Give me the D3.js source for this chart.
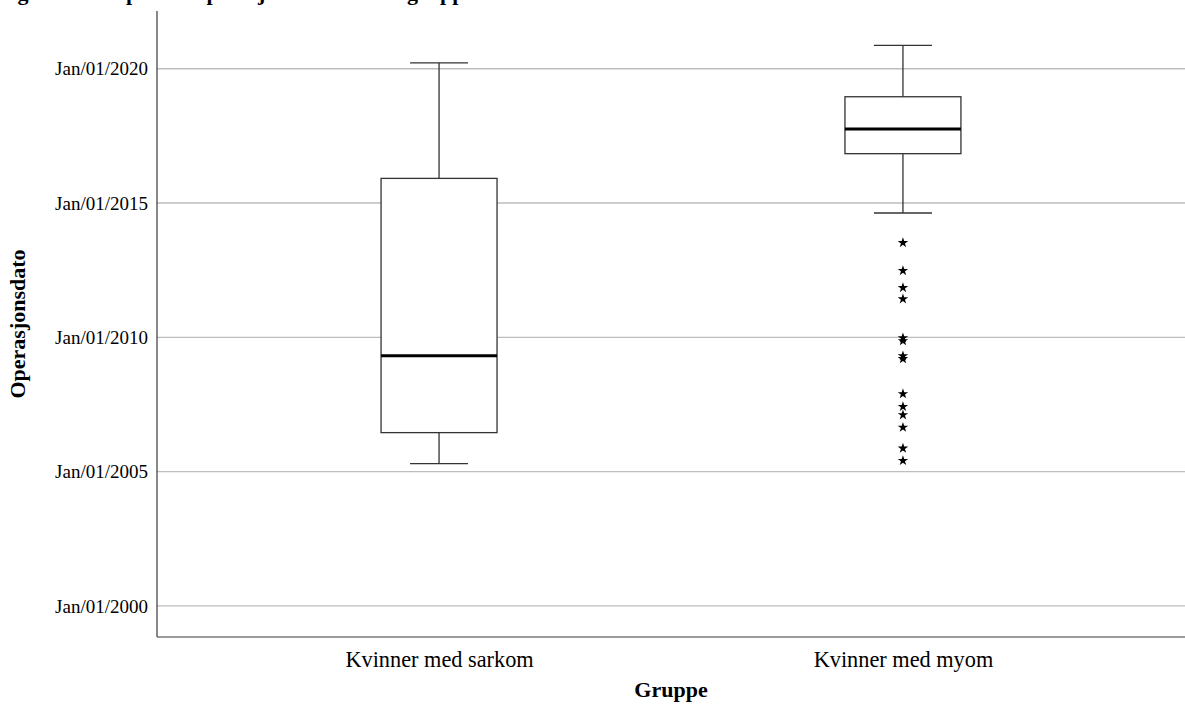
<!DOCTYPE html>
<html>
<head>
<meta charset="utf-8">
<script src="https://cdn.jsdelivr.net/npm/d3@7"></script>
<style>
  body { margin: 0; background: #fff; }
  svg { display: block; font-family: "Liberation Serif", "Times New Roman", serif; }
  svg text { font-family: "Liberation Serif", "Times New Roman", serif; }
</style>
</head>
<body>
<svg id="chart" width="1185" height="715"></svg>
<script>
// groups on the x axis
const groups = ["Kvinner med sarkom", "Kvinner med myom"];

// box statistics per group (dates)
const whiskerLow  = ["2005-04-20", "2014-08-18"];
const quartile1   = ["2006-06-15", "2016-11-02"];
const medians     = ["2009-04-26", "2017-10-03"];
const quartile3   = ["2015-12-02", "2018-12-16"];
const whiskerHigh = ["2020-03-21", "2020-11-13"];

// extreme values (stars), all in the myom group
const outlierGroup = "Kvinner med myom";
const outliers = [
  "2013-07-10", "2012-06-25", "2011-11-06", "2011-06-06",
  "2009-12-23", "2009-11-14", "2009-04-23", "2009-03-15",
  "2007-11-24", "2007-06-03", "2007-02-10", "2006-08-25",
  "2005-11-14", "2005-05-30"
];

// y ticks
const tickDates = ["2000-01-01", "2005-01-01", "2010-01-01", "2015-01-01", "2020-01-01"];
const yDomain = ["1998-11-05", "2022-02-24"];

const parse = d3.timeParse("%Y-%m-%d");
const fmt = d3.timeFormat("%b/%d/%Y");

const svg = d3.select("#chart");
const plotLeft = 157, plotRight = 1185, plotTop = 11, plotBottom = 637;

const y = d3.scaleTime()
  .domain(yDomain.map(parse))
  .range([plotBottom, plotTop]);

const x = d3.scalePoint()
  .domain(groups)
  .range([plotLeft, plotRight])
  .padding(0.608);

const boxW = x.step() * 0.25;
const capW = boxW / 2;

// title, cut off by the top edge as in the source picture
svg.append("text")
  .attr("x", -2)
  .attr("y", 0)
  .attr("font-size", 22)
  .attr("font-weight", "bold")
  .text("Figur 5: Boksplot av operasjonsdato i de to gruppene");

// grid lines
svg.append("g")
  .selectAll("line")
  .data(tickDates.map(parse))
  .enter().append("line")
  .attr("x1", plotLeft)
  .attr("x2", plotRight)
  .attr("y1", d => y(d))
  .attr("y2", d => y(d))
  .attr("stroke", "#bdbdbd")
  .attr("stroke-width", 1.3);

// y axis
const yAxis = d3.axisLeft(y)
  .tickValues(tickDates.map(parse))
  .tickFormat(fmt)
  .tickSize(0)
  .tickPadding(9);

svg.append("g")
  .attr("transform", `translate(${plotLeft},0)`)
  .call(yAxis)
  .attr("font-family", null)
  .attr("font-size", 19)
  .call(g => g.select(".domain").remove())
  .selectAll("text")
  .attr("fill", "#000");

// x axis
const xAxis = d3.axisBottom(x).tickSize(0).tickPadding(14);
svg.append("g")
  .attr("transform", `translate(0,${plotBottom})`)
  .call(xAxis)
  .attr("font-family", null)
  .attr("font-size", 22.3)
  .call(g => g.select(".domain").remove())
  .selectAll("text")
  .attr("fill", "#000");

// axis lines
svg.append("line")
  .attr("x1", plotLeft).attr("x2", plotLeft)
  .attr("y1", plotTop).attr("y2", plotBottom)
  .attr("stroke", "#3a3a3a").attr("stroke-width", 1.2);
svg.append("line")
  .attr("x1", plotLeft).attr("x2", plotRight)
  .attr("y1", plotBottom).attr("y2", plotBottom)
  .attr("stroke", "#3a3a3a").attr("stroke-width", 1.2);

// boxes
const boxes = groups.map((g, i) => ({
  group: g,
  lo: parse(whiskerLow[i]),
  q1: parse(quartile1[i]),
  med: parse(medians[i]),
  q3: parse(quartile3[i]),
  hi: parse(whiskerHigh[i])
}));

const box = svg.append("g").selectAll("g")
  .data(boxes)
  .enter().append("g");

const stroke = "#333";

// whiskers
box.append("line")
  .attr("x1", d => x(d.group)).attr("x2", d => x(d.group))
  .attr("y1", d => y(d.hi)).attr("y2", d => y(d.q3))
  .attr("stroke", stroke).attr("stroke-width", 1.3);
box.append("line")
  .attr("x1", d => x(d.group)).attr("x2", d => x(d.group))
  .attr("y1", d => y(d.q1)).attr("y2", d => y(d.lo))
  .attr("stroke", stroke).attr("stroke-width", 1.3);

// caps
box.append("line")
  .attr("x1", d => x(d.group) - capW / 2).attr("x2", d => x(d.group) + capW / 2)
  .attr("y1", d => y(d.hi)).attr("y2", d => y(d.hi))
  .attr("stroke", stroke).attr("stroke-width", 1.3);
box.append("line")
  .attr("x1", d => x(d.group) - capW / 2).attr("x2", d => x(d.group) + capW / 2)
  .attr("y1", d => y(d.lo)).attr("y2", d => y(d.lo))
  .attr("stroke", stroke).attr("stroke-width", 1.3);

// box
box.append("rect")
  .attr("x", d => x(d.group) - boxW / 2)
  .attr("width", boxW)
  .attr("y", d => y(d.q3))
  .attr("height", d => y(d.q1) - y(d.q3))
  .attr("fill", "#fff")
  .attr("stroke", stroke)
  .attr("stroke-width", 1.3);

// median
box.append("line")
  .attr("x1", d => x(d.group) - boxW / 2).attr("x2", d => x(d.group) + boxW / 2)
  .attr("y1", d => y(d.med)).attr("y2", d => y(d.med))
  .attr("stroke", "#000").attr("stroke-width", 3);

// outliers
svg.append("g").selectAll("path")
  .data(outliers.map(parse))
  .enter().append("path")
  .attr("transform", d => `translate(${x(outlierGroup)},${y(d)})`)
  .attr("d", d3.symbol().type(d3.symbolStar).size(34))
  .attr("fill", "#000");

// axis titles
svg.append("text")
  .attr("x", (plotLeft + plotRight) / 2)
  .attr("y", 697)
  .attr("text-anchor", "middle")
  .attr("font-size", 22)
  .attr("font-weight", "bold")
  .text("Gruppe");

svg.append("text")
  .attr("transform", `translate(25,${(plotTop + plotBottom) / 2}) rotate(-90)`)
  .attr("text-anchor", "middle")
  .attr("font-size", 22)
  .attr("font-weight", "bold")
  .text("Operasjonsdato");
</script>
</body>
</html>
